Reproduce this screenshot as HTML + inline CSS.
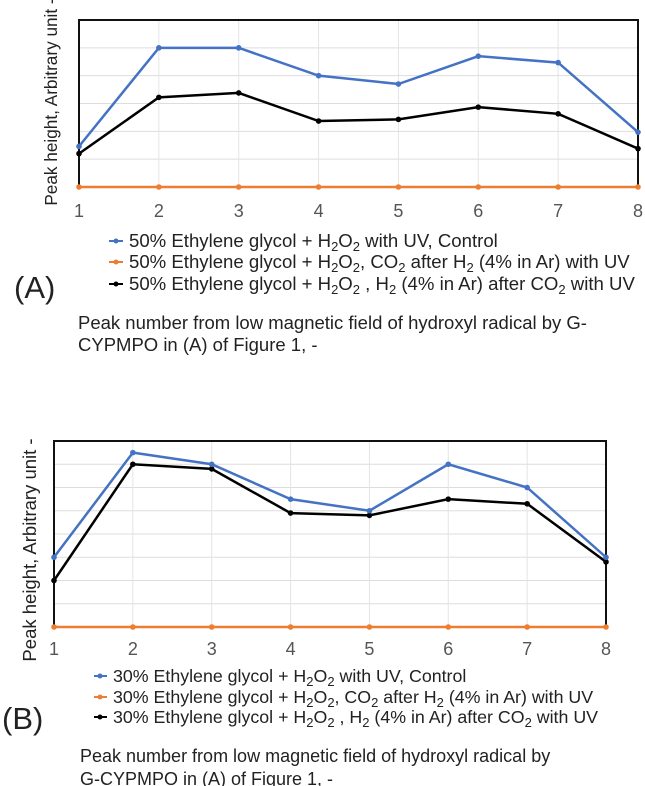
<!DOCTYPE html>
<html><head><meta charset="utf-8"><style>
body{margin:0;background:#fff;width:645px;height:786px;overflow:hidden}
svg{display:block;font-family:"Liberation Sans",Arial,sans-serif}
</style></head><body>
<svg id="fig" width="645" height="786" viewBox="0 0 645 786" xmlns="http://www.w3.org/2000/svg">
<g id="chartA"></g>
<g id="chartB"></g>
<g font-size="18.6" fill="#222">
 <g><line x1="109" y1="241" x2="123" y2="241" stroke="#4472c4" stroke-width="2"/><circle cx="116" cy="241" r="2.5" fill="#4472c4"/>
 <text x="129" y="247">50% Ethylene glycol + H<tspan font-size="13" dy="4">2</tspan><tspan dy="-4">O</tspan><tspan font-size="13" dy="4">2</tspan><tspan dy="-4"> with UV, Control</tspan></text></g>
 <g><line x1="109" y1="262" x2="123" y2="262" stroke="#ed7d31" stroke-width="2"/><circle cx="116" cy="262" r="2.5" fill="#ed7d31"/>
 <text x="129" y="268">50% Ethylene glycol + H<tspan font-size="13" dy="4">2</tspan><tspan dy="-4">O</tspan><tspan font-size="13" dy="4">2</tspan><tspan dy="-4">, CO</tspan><tspan font-size="13" dy="4">2</tspan><tspan dy="-4"> after H</tspan><tspan font-size="13" dy="4">2</tspan><tspan dy="-4"> (4% in Ar) with UV</tspan></text></g>
 <g><line x1="109" y1="284" x2="123" y2="284" stroke="#000" stroke-width="2"/><circle cx="116" cy="284" r="2.5" fill="#000"/>
 <text x="129" y="290">50% Ethylene glycol + H<tspan font-size="13" dy="4">2</tspan><tspan dy="-4">O</tspan><tspan font-size="13" dy="4">2</tspan><tspan dy="-4"> , H</tspan><tspan font-size="13" dy="4">2</tspan><tspan dy="-4"> (4% in Ar)  after CO</tspan><tspan font-size="13" dy="4">2</tspan><tspan dy="-4"> with UV</tspan></text></g>
</g>
<text x="14" y="298" font-size="31" fill="#222">(A)</text>
<text font-size="18.5" fill="#222"><tspan x="78" y="329">Peak number  from low magnetic field of hydroxyl radical by G-</tspan><tspan x="78" y="351">CYPMPO in (A) of Figure 1, -</tspan></text>
<g font-size="17.8" fill="#222">
 <g><line x1="94" y1="676" x2="107" y2="676" stroke="#4472c4" stroke-width="2"/><circle cx="100" cy="676" r="2.5" fill="#4472c4"/>
 <text x="113" y="682">30% Ethylene glycol + H<tspan font-size="13" dy="4">2</tspan><tspan dy="-4">O</tspan><tspan font-size="13" dy="4">2</tspan><tspan dy="-4"> with UV, Control</tspan></text></g>
 <g><line x1="94" y1="697" x2="107" y2="697" stroke="#ed7d31" stroke-width="2"/><circle cx="100" cy="697" r="2.5" fill="#ed7d31"/>
 <text x="113" y="703">30% Ethylene glycol + H<tspan font-size="13" dy="4">2</tspan><tspan dy="-4">O</tspan><tspan font-size="13" dy="4">2</tspan><tspan dy="-4">, CO</tspan><tspan font-size="13" dy="4">2</tspan><tspan dy="-4"> after H</tspan><tspan font-size="13" dy="4">2</tspan><tspan dy="-4"> (4% in Ar) with UV</tspan></text></g>
 <g><line x1="94" y1="717" x2="107" y2="717" stroke="#000" stroke-width="2"/><circle cx="100" cy="717" r="2.5" fill="#000"/>
 <text x="113" y="723">30% Ethylene glycol + H<tspan font-size="13" dy="4">2</tspan><tspan dy="-4">O</tspan><tspan font-size="13" dy="4">2</tspan><tspan dy="-4"> , H</tspan><tspan font-size="13" dy="4">2</tspan><tspan dy="-4"> (4% in Ar)  after CO</tspan><tspan font-size="13" dy="4">2</tspan><tspan dy="-4"> with UV</tspan></text></g>
</g>
<text x="2" y="729" font-size="31" fill="#222">(B)</text>
<text font-size="18" fill="#222"><tspan x="80" y="762">Peak number  from low magnetic field of hydroxyl radical by</tspan><tspan x="80" y="785">G-CYPMPO in (A) of Figure 1, -</tspan></text>
</svg>
<script>
const categories = [1,2,3,4,5,6,7,8];
const tickLabels = ["1","2","3","4","5","6","7","8"];
const aControl = [1.46,5.0,5.0,4.0,3.7,4.7,4.47,1.97];
const aCo2AfterH2 = [0,0,0,0,0,0,0,0];
const aH2AfterCo2 = [1.2,3.22,3.38,2.37,2.43,2.87,2.63,1.38];
const bControl = [3.0,7.5,7.0,5.5,5.0,7.0,6.0,3.0];
const bCo2AfterH2 = [0,0,0,0,0,0,0,0];
const bH2AfterCo2 = [2.0,7.0,6.8,4.9,4.8,5.5,5.3,2.8];
const NS="http://www.w3.org/2000/svg";
function mk(parent,tag,attrs){const e=document.createElementNS(NS,tag);for(const k in attrs)e.setAttribute(k,attrs[k]);parent.appendChild(e);return e;}
function draw(g,cfg,series,key){
  const xs=i=>cfg.x0+(cfg.x1-cfg.x0)*i/(categories.length-1);
  const ys=v=>cfg.y0-(cfg.y0-cfg.yt)*v/cfg.ymax;
  for(let k=1;k<cfg.ymax;k++){const l=mk(g,'line',{x1:cfg.x0,x2:cfg.x1,y1:ys(k),y2:ys(k),stroke:'#ddd','stroke-width':1});
    
    }
  categories.forEach((c,i)=>{if(i>0&&i<categories.length-1){const l=mk(g,'line',{x1:xs(i),x2:xs(i),y1:cfg.yt,y2:cfg.y0,stroke:'#e4e4e4','stroke-width':1});
    
    }
    const t=mk(g,'text',{x:xs(i),y:cfg.y0+cfg.tickDy,'text-anchor':'middle','font-size':18,fill:'#555'});t.textContent=tickLabels[i];
    
    });
  const f=mk(g,'path',{d:`M${cfg.x0} ${cfg.y0}V${cfg.yt}H${cfg.x1}V${cfg.y0}`,fill:'none',stroke:'#111','stroke-width':2});
  
  
  series.forEach(s=>{
    const p=mk(g,'polyline',{points:s.v.map((v,i)=>xs(i)+','+ys(v)).join(' '),fill:'none',stroke:s.c,'stroke-width':2.5});
    
    
    s.v.forEach((v,i)=>{const d=mk(g,'circle',{cx:xs(i),cy:ys(v),r:2.8,fill:s.c});
      
      });
  });
  const yt=mk(g,'text',{x:0,y:0,'font-size':cfg.tfs,fill:'#222','text-anchor':'middle',transform:`translate(${cfg.tx},${cfg.ty}) rotate(-90)`});
  yt.textContent='Peak height, Arbitrary unit -';
  
  
}
draw(document.getElementById('chartA'),{x0:79,x1:638,yt:20,y0:187,ymax:6,tx:57,ty:102,tickDy:30,tfs:17.2},
 [{v:aCo2AfterH2,c:'#ed7d31',n:'a-co2-after-h2'},{v:aH2AfterCo2,c:'#000',n:'a-h2-after-co2'},{v:aControl,c:'#4472c4',n:'a-control'}],'a');
draw(document.getElementById('chartB'),{x0:54,x1:606,yt:441,y0:627,ymax:8,tx:36,ty:550,tickDy:28,tfs:18.5},
 [{v:bCo2AfterH2,c:'#ed7d31',n:'b-co2-after-h2'},{v:bH2AfterCo2,c:'#000',n:'b-h2-after-co2'},{v:bControl,c:'#4472c4',n:'b-control'}],'b');
</script>
</body></html>
